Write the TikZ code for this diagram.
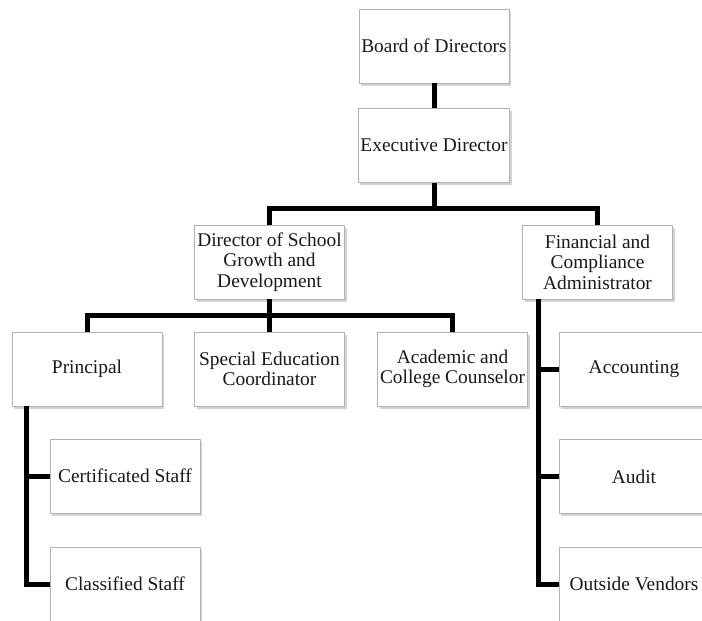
\documentclass[tikz,border=0pt]{standalone}
\usepackage{fontspec}
\setmainfont{Liberation Serif}
\usetikzlibrary{shadows}

\tikzset{
  unit/.style={box/.style={draw=gray!60, fill=white, text=black!90,
      minimum width=75pt, minimum height=37pt, inner sep=1pt, align=center,
      font=\fontsize{9.7}{10.3}\selectfont,
      drop shadow={shadow xshift=1pt, shadow yshift=-1.3pt, opacity=0.35}}},
  link/.style={line width=2.5pt, line join=miter}
}

\begin{document}
\begin{tikzpicture}
  [x=0.5pt,y=-0.5pt,unit]
  \clip (0,0) rectangle (702,621);
  \useasboundingbox (0,0) rectangle (702,621);

  % top of the chart
  \node[box] (board) at (434,46)    {Board of Directors};
  \node[box] (exec)  at (434,145.5) {Executive Director};

  \node[box] (dir) at (269.5,262) {Director of School\\Growth and\\Development};
  \node[box] (fin) at (597.5,262) {Financial and\\Compliance\\Administrator};

  % second row
  \node[box] (prin) at (87,369)    {Principal};
  \node[box] (spec) at (269.5,369) {Special Education\\Coordinator};
  \node[box] (acad) at (452.5,369) {Academic and\\College Counselor};

  \node[box] (cert)  at (125,476)   {Certificated Staff};
  \node[box] (class) at (125,584)   {Classified Staff};

  \node[box] (acct)  at (634,369)   {Accounting};
  \node[box] (audit) at (634,476.5) {Audit};
  \node[box] (vend)  at (634,584)   {Outside Vendors};

  \coordinate (bus1) at (434,208);
  \coordinate (bus2) at (269.5,315);
  \path (prin.south west) ++(15,0) coordinate (pspine);
  \path (fin.south west)  ++(16,0) coordinate (fspine);

  \draw[link] (board.south) -- (exec.north);
  \draw[link] (exec.south) -- (bus1);
  \draw[link] (dir.north) |- (bus1) -| (fin.north);

  \draw[link] (dir.south) -- (bus2);
  \draw[link] (prin.north) |- (bus2) -| (acad.north);
  \draw[link] (spec.north) -- (bus2);

  \draw[link] (pspine) |- (class.west);
  \draw[link] (pspine |- cert.west) -- (cert.west);

  \draw[link] (fspine) |- (vend.west);
  \draw[link] (fspine |- acct.west) -- (acct.west);
  \draw[link] (fspine |- audit.west) -- (audit.west);
\end{tikzpicture}
\end{document}
